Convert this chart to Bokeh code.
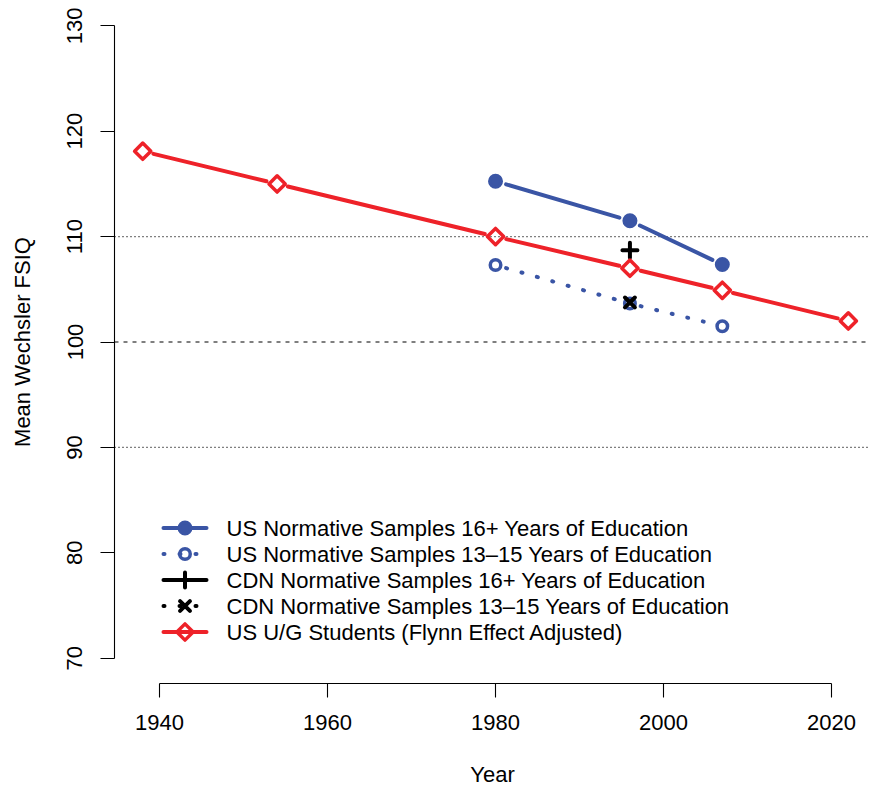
import numpy as np
from bokeh.plotting import figure
from bokeh.models import Range1d, Span, FixedTicker
from bokeh.embed import file_html
from bokeh.resources import INLINE
from bokeh.core.properties import value

# ---------------- data ----------------
years_ug = [1938, 1954, 1980, 1996, 2007, 2022]
iq_ug = [118.1, 115.0, 110.0, 107.0, 104.9, 102.0]

years_us = [1980, 1996, 2007]
iq_us16 = [115.25, 111.5, 107.35]
iq_us13 = [107.3, 103.65, 101.5]

years_cdn = [1996]
iq_cdn16 = [108.7]
iq_cdn13 = [103.75]

x_ticks = [1940, 1960, 1980, 2000, 2020]
y_ticks = [70, 80, 90, 100, 110, 120, 130]
dotted_levels = [90, 110]
dashed_levels = [100]

legend_labels = [
    "US Normative Samples 16+ Years of Education",
    "US Normative Samples 13\u201315 Years of Education",
    "CDN Normative Samples 16+ Years of Education",
    "CDN Normative Samples 13\u201315 Years of Education",
    "US U/G Students (Flynn Effect Adjusted)",
]

# ---------------- styling / layout ----------------
BLUE = "#3A55A5"
RED = "#EE2229"
BLACK = "#000000"
FONT = "Liberation Sans"
FS = "22px"

W, H = 870, 789
ML, MB = 114, 106
X0, X1 = 1934.64, 2024.64
Y0, Y1 = 67.6, 132.4
FW, FH = W - ML, H - MB          # frame size in px
SX = FW / (X1 - X0)              # px per year
SY = FH / (Y1 - Y0)              # px per IQ point

p = figure(width=W, height=H, x_range=Range1d(X0, X1), y_range=Range1d(Y0, Y1),
           output_backend="svg", toolbar_location=None,
           min_border_left=ML, min_border_right=0, min_border_top=0, min_border_bottom=MB)
p.outline_line_color = None
p.xgrid.visible = False
p.ygrid.visible = False
p.background_fill_color = "white"
p.border_fill_color = "white"

for ax in (p.xaxis[0], p.yaxis[0]):
    ax.axis_line_color = BLACK
    ax.axis_line_width = 1.1
    ax.major_tick_line_color = BLACK
    ax.major_tick_line_width = 1.1
    ax.major_tick_out = 14
    ax.major_tick_in = 0
    ax.minor_tick_line_color = None
    ax.major_label_text_font = FONT
    ax.major_label_text_font_size = FS
    ax.major_label_text_color = BLACK
    ax.axis_label_text_font = FONT
    ax.axis_label_text_font_size = FS
    ax.axis_label_text_font_style = "normal"
    ax.axis_label_text_color = BLACK

p.xaxis[0].ticker = FixedTicker(ticks=x_ticks)
p.xaxis[0].bounds = (x_ticks[0], x_ticks[-1])
p.xaxis[0].axis_label = "Year"
p.xaxis[0].major_label_standoff = 17
p.xaxis[0].axis_label_standoff = 29

p.yaxis[0].ticker = FixedTicker(ticks=y_ticks)
p.yaxis[0].bounds = (y_ticks[0], y_ticks[-1])
p.yaxis[0].axis_label = "Mean Wechsler FSIQ"
p.yaxis[0].major_label_orientation = "vertical"
p.yaxis[0].major_label_standoff = 18
p.yaxis[0].axis_label_standoff = 30

for lv in dotted_levels:
    p.add_layout(Span(location=lv, dimension="width", line_color=BLACK,
                      line_width=1.1, line_dash="1 3", level="underlay"))
for lv in dashed_levels:
    p.add_layout(Span(location=lv, dimension="width", line_color=BLACK,
                      line_width=1.1, line_dash="4 5", level="underlay"))

GAP = 11.0  # px gap between line ends and point centres (type="b")


def gapped(xs, ys):
    a0, b0, a1, b1 = [], [], [], []
    for i in range(len(xs) - 1):
        dx = (xs[i + 1] - xs[i]) * SX
        dy = (ys[i + 1] - ys[i]) * SY
        L = float(np.hypot(dx, dy))
        if L <= 2 * GAP:
            continue
        t = GAP / L
        a0.append(xs[i] + t * (xs[i + 1] - xs[i]))
        b0.append(ys[i] + t * (ys[i + 1] - ys[i]))
        a1.append(xs[i + 1] - t * (xs[i + 1] - xs[i]))
        b1.append(ys[i + 1] - t * (ys[i + 1] - ys[i]))
    return a0, b0, a1, b1


def seg(xs, ys, color, dash="solid"):
    a0, b0, a1, b1 = gapped(xs, ys)
    p.segment(x0=a0, y0=b0, x1=a1, y1=b1, line_color=color, line_width=4,
              line_cap="round", line_dash=dash)


marker_styles = [
    dict(marker="circle", size=11.5, fill_color=BLUE, line_color=BLUE, line_width=3.5),
    dict(marker="circle", size=10.5, fill_color=None, line_color=BLUE, line_width=3.5),
    dict(marker="cross", size=15, line_color=BLACK, line_width=4, line_cap="round"),
    dict(marker="x", size=14, line_color=BLACK, line_width=4, line_cap="round"),
    dict(marker="square", size=11.5, angle=np.pi / 4, fill_color=None, line_color=RED,
         line_width=3.5, line_join="round"),
]
line_styles = [(BLUE, "solid"), (BLUE, "1 15"), (BLACK, "solid"), (BLACK, "1 15"), (RED, "solid")]

# series
seg(years_us, iq_us16, BLUE)
p.scatter(years_us, iq_us16, **marker_styles[0])
seg(years_us, iq_us13, BLUE, "1 15")
p.scatter(years_us, iq_us13, **marker_styles[1])
p.scatter(years_cdn, iq_cdn16, **marker_styles[2])
p.scatter(years_cdn, iq_cdn13, **marker_styles[3])
seg(years_ug, iq_ug, RED)
p.scatter(years_ug, iq_ug, **marker_styles[4])

# legend (R style, no box)
def px_x(px):
    return X0 + (px - ML) / SX


def px_y(py):
    return Y1 - py / SY


leg_x0, leg_x1, leg_xm, leg_xt = px_x(163), px_x(206), px_x(184.5), px_x(226)
for i, lab in enumerate(legend_labels):
    yy = px_y(527.5 + 26 * i)
    col, dash = line_styles[i]
    p.segment(x0=[leg_x0], y0=[yy], x1=[leg_x1], y1=[yy], line_color=col, line_width=4,
              line_cap="round", line_dash=dash)
    p.scatter([leg_xm], [yy], **marker_styles[i])
    p.text(x=[leg_xt], y=[yy], text=[lab], text_font=value(FONT), text_font_size=FS,
           text_color=BLACK, text_baseline="middle", text_align="left")

open("out.html", "w").write(file_html(p, INLINE))
